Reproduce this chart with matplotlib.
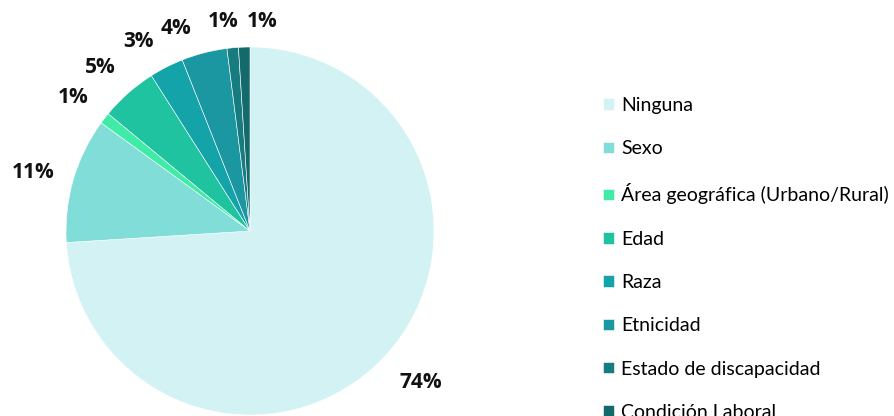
import matplotlib as mpl; mpl.use("Agg")
import matplotlib.pyplot as plt

plt.rcParams["font.family"] = ["Lato", "DejaVu Sans"]

categories = ["Ninguna", "Sexo", "Área geográfica (Urbano/Rural)", "Edad",
              "Raza", "Etnicidad", "Estado de discapacidad", "Condición Laboral"]
shares = [74, 11, 1, 5, 3, 4, 1, 1]
colors = ["#D3F2F4", "#80DDD8", "#40EBA8", "#20C3A0",
          "#15A3AA", "#1A97A0", "#177C80", "#136A6A"]

W, H = 895, 416
fig = plt.figure(figsize=(W / 100, H / 100), dpi=100)

# pie centre ~ (250, 231) px, radius ~184 px
R, k = 184, 1.3
side = 2 * k * R
cx, cy = 250, H - 231
ax = fig.add_axes([(cx - side / 2) / W, (cy - side / 2) / H, side / W, side / H])

wedges, texts = ax.pie(shares, colors=colors, startangle=90, counterclock=False,
                       labels=[f"{v}%" for v in shares], labeldistance=1.22,
                       wedgeprops=dict(edgecolor="white", linewidth=0.4),
                       textprops=dict(fontsize=15, fontweight="bold", color="#111111",
                                      family=["Open Sans", "DejaVu Sans"]))
for t in texts:
    t.set_ha("center"); t.set_va("center")

# label positions nudged like the original (crowded top slices), in radius units
def px(x, y):
    return ((x - cx) / R, (231 - y) / R)

nudge = {0: px(421, 383), 1: px(33, 173), 2: px(73, 98), 3: px(100, 68),
         4: px(138, 42), 5: px(176, 28), 6: px(223, 22), 7: px(262, 22)}
for i, pos in nudge.items():
    texts[i].set_position(pos)

ax.set_xlim(-k, k)
ax.set_ylim(-k, k)
ax.set_aspect("equal")
ax.axis("off")

fig.legend(wedges, categories, loc="upper left",
           bbox_to_anchor=(603 / W, (H - 97) / H), frameon=False,
           fontsize=14, handlelength=0.55, handleheight=0.55, handletextpad=0.4,
           labelspacing=1.35, borderaxespad=0, borderpad=0)

fig.savefig("out.png", dpi=100, facecolor="white")
